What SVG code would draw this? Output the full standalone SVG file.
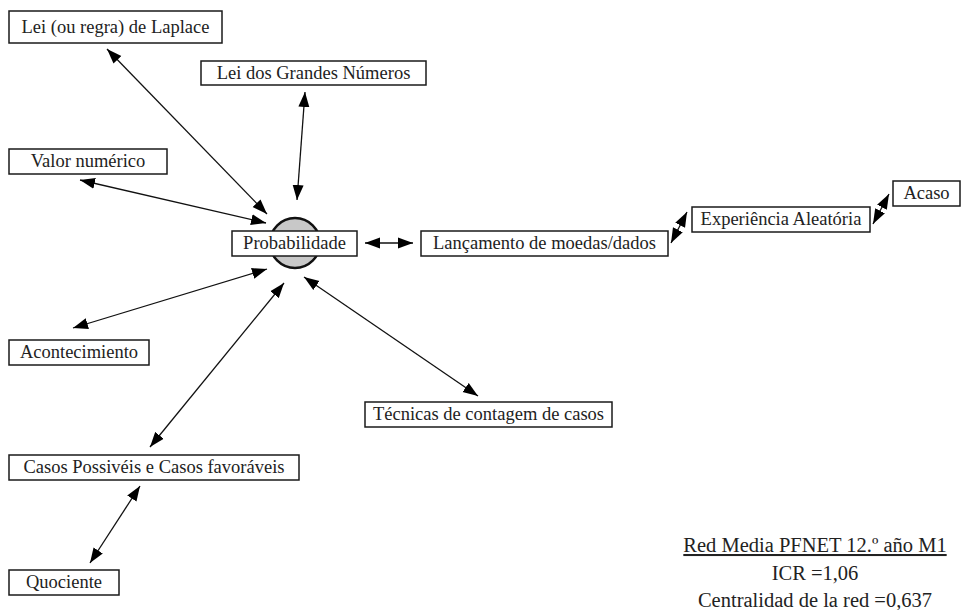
<svg xmlns="http://www.w3.org/2000/svg" width="962" height="610" viewBox="0 0 962 610">
<defs>
<marker id="ah" markerUnits="userSpaceOnUse" markerWidth="16" markerHeight="12" refX="15" refY="5.5" orient="auto-start-reverse" viewBox="0 0 16 11">
<path d="M0,0 L15,5.5 L0,11 z" fill="#000"/>
</marker>
<style>
.box{fill:#fff;stroke:#1a1a1a;stroke-width:1.5}
.lbl{font-family:"Liberation Serif","Times New Roman",serif;font-size:18.5px;fill:#222;text-anchor:middle}
.con{stroke:#111;stroke-width:1.3;fill:none;marker-start:url(#ah);marker-end:url(#ah)}
.cap{font-family:"Liberation Serif","Times New Roman",serif;font-size:20.5px;fill:#222;text-anchor:middle}
</style>
</defs>
<rect width="962" height="610" fill="#fff"/>
<g id="connectors">
<line class="con" x1="107" y1="49" x2="267" y2="214"/>
<line class="con" x1="305" y1="92" x2="297" y2="200"/>
<line class="con" x1="80" y1="180" x2="266" y2="223"/>
<line class="con" x1="365" y1="243" x2="413" y2="243"/>
<line class="con" x1="671" y1="243" x2="687" y2="212"/>
<line class="con" x1="873" y1="224" x2="889" y2="194"/>
<line class="con" x1="73" y1="328" x2="267" y2="269"/>
<line class="con" x1="150" y1="447" x2="284" y2="283"/>
<line class="con" x1="304" y1="277" x2="478" y2="396"/>
<line class="con" x1="140" y1="486" x2="90" y2="563"/>
</g>
<g id="laplace"><rect class="box" x="9" y="11" width="213" height="32"/><text class="lbl" x="115.5" y="33">Lei (ou regra) de Laplace</text></g>
<g id="grandes-numeros"><rect class="box" x="201" y="61" width="225" height="24"/><text class="lbl" x="313.5" y="79">Lei dos Grandes Números</text></g>
<g id="valor-numerico"><rect class="box" x="9" y="149" width="158" height="25"/><text class="lbl" x="88" y="167">Valor numérico</text></g>
<g id="probabilidade"><circle cx="295" cy="243" r="25" fill="#c8c8c8" stroke="#111" stroke-width="2.5"/><rect class="box" x="232" y="231" width="125" height="25"/><text class="lbl" x="294.5" y="249">Probabilidade</text></g>
<g id="lancamento"><rect class="box" x="421" y="231" width="247" height="25"/><text class="lbl" x="544.5" y="249">Lançamento de moedas/dados</text></g>
<g id="experiencia"><rect class="box" x="692" y="207" width="178" height="25"/><text class="lbl" x="781" y="225">Experiência Aleatória</text></g>
<g id="acaso"><rect class="box" x="893" y="181" width="67" height="25"/><text class="lbl" x="926.5" y="199">Acaso</text></g>
<g id="acontecimiento"><rect class="box" x="9" y="340" width="140" height="25"/><text class="lbl" x="79" y="358">Acontecimiento</text></g>
<g id="tecnicas"><rect class="box" x="365" y="402" width="247" height="25"/><text class="lbl" x="488.5" y="420">Técnicas de contagem de casos</text></g>
<g id="casos"><rect class="box" x="9" y="455" width="290" height="25"/><text class="lbl" x="154" y="473">Casos Possivéis e Casos favoráveis</text></g>
<g id="quociente"><rect class="box" x="9" y="570" width="110" height="25"/><text class="lbl" x="64" y="588">Quociente</text></g>
<g id="caption">
<text class="cap" x="815" y="552" text-decoration="underline">Red Media PFNET 12.º año M1</text>
<text class="cap" x="815" y="580">ICR =1,06</text>
<text class="cap" x="815" y="607">Centralidad de la red =0,637</text>
</g>
</svg>
